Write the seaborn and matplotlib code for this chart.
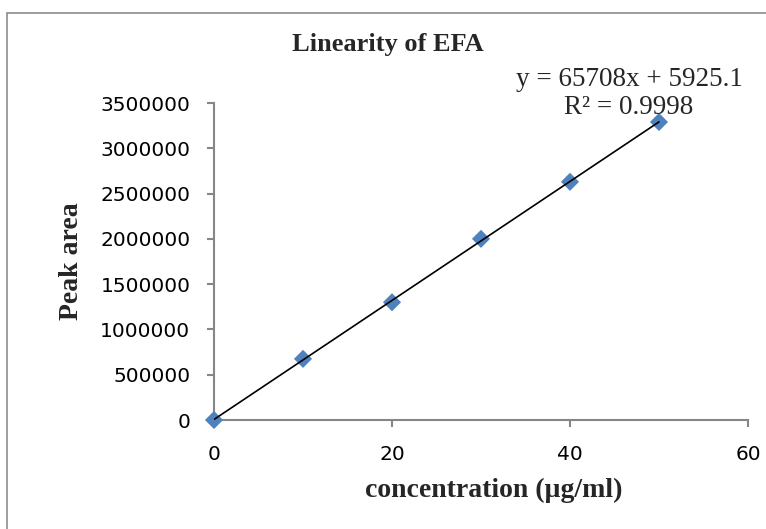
import matplotlib
matplotlib.use("Agg")
import matplotlib.pyplot as plt
import matplotlib.patches as patches
from matplotlib.ticker import StrMethodFormatter
import pandas as pd
import seaborn as sns

# values
concentration = [0, 10, 20, 30, 40, 50]
peak_area = [0, 675000, 1300000, 2000000, 2630000, 3290000]
slope = 65708
intercept = 5925.1
r_squared = 0.9998
x_ticks = [0, 20, 40, 60]
y_ticks = [0, 500000, 1000000, 1500000, 2000000, 2500000, 3000000, 3500000]

sns.set_style("ticks")
plt.rcParams["font.family"] = ["DejaVu Sans"]
serif = ["Liberation Serif", "DejaVu Serif"]
grey = "#868686"

W, H = 766, 529
fig = plt.figure(figsize=(W / 100, H / 100), dpi=100)
ax = fig.add_axes([214 / W, 1 - 420 / H, 534 / W, 317 / H])

points = pd.DataFrame({"conc": concentration, "area": peak_area})
trend = pd.DataFrame({"conc": [concentration[0], concentration[-1]]})
trend["area"] = slope * trend["conc"] + intercept

sns.scatterplot(data=points, x="conc", y="area", marker="D", s=85,
                color="#4F81BD", edgecolor="none", ax=ax, clip_on=False, zorder=3)
sns.lineplot(data=trend, x="conc", y="area", color="black", lw=1.2, ax=ax, zorder=4)

ax.set_xlim(x_ticks[0], x_ticks[-1])
ax.set_ylim(y_ticks[0], y_ticks[-1])
ax.set_xticks(x_ticks)
ax.set_yticks(y_ticks)
ax.yaxis.set_major_formatter(StrMethodFormatter("{x:.0f}"))
sns.despine(ax=ax)
for side in ["left", "bottom"]:
    ax.spines[side].set_color(grey)
    ax.spines[side].set_linewidth(1.5)
ax.tick_params(axis="both", direction="out", length=5, width=1.5, color=grey,
               labelsize=14.5, labelcolor="black")
ax.tick_params(axis="y", pad=12)
ax.tick_params(axis="x", pad=13)

ax.set_xlabel("concentration (µg/ml)", family=serif, fontweight="bold", fontsize=20, va="center")
ax.set_ylabel("Peak area", family=serif, fontweight="bold", fontsize=20, va="center")
ax.xaxis.set_label_coords((494 - 214) / 534, (420 - 490) / 317)
ax.yaxis.set_label_coords((72 - 214) / 534, 0.5)

fig.text(388 / W, 1 - 45 / H, "Linearity of EFA", family=serif, fontweight="bold",
         fontsize=19, ha="center", va="center")
fig.text(629 / W, 1 - 80 / H, f"y = {slope}x + {intercept}", family=serif,
         fontsize=19.5, ha="center", va="center")
fig.text(629 / W, 1 - 108 / H, f"R² = {r_squared}", family=serif,
         fontsize=19.5, ha="center", va="center")

fig.patches.append(patches.Rectangle((7 / W, -0.1), 1.0, 1 - 13 / H + 0.1,
                                     transform=fig.transFigure, fill=False,
                                     edgecolor="#8c8c8c", lw=1.2))

fig.savefig("out.png", dpi=100)
